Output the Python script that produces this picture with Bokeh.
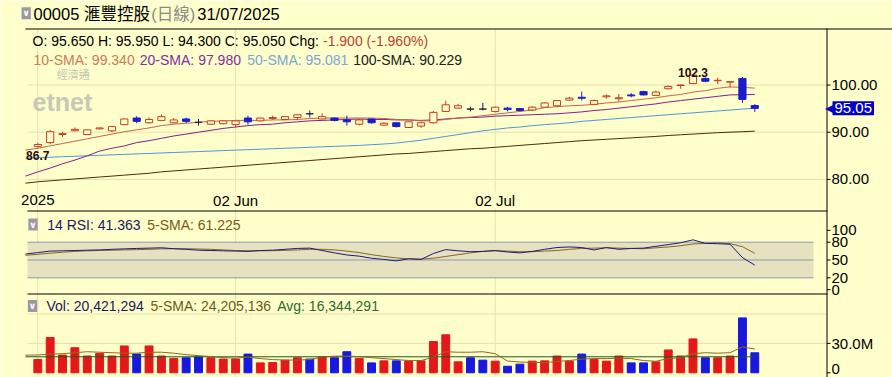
import numpy as np
from bokeh.plotting import figure
from bokeh.models import Range1d, Label, ColumnDataSource
from bokeh.core.properties import value
from bokeh.embed import file_html
from bokeh.resources import INLINE

# ---------------- data ----------------
symbol = "00005"
name = "滙豐控股"
period = "(日線)"
date_str = "31/07/2025"
tick_pos = [0, 16, 37]
tick_labels = ["2025", "02 Jun", "02 Jul"]
price_ticks = [80, 90, 100]
rsi_ticks = [0, 20, 50, 80, 100]
vol_ticks = [0, 30]

opens = [87.0, 87.8, 89.5, 90.3, 89.5, 90.7, 90.3, 91.6, 93.0, 92.0,
         92.5, 92.0, 92.8, 92.1, 91.7, 91.8, 91.6, 93.0, 92.4, 92.9,
         92.7, 93.1, 93.9, 92.8, 93.0, 92.6, 91.7, 92.8, 91.5, 92.0,
         91.0, 91.3, 92.0, 94.4, 95.1, 94.9, 94.9, 94.4, 95.1, 95.0,
         94.7, 95.3, 95.6, 96.8, 97.4, 95.9, 97.5, 97.1, 97.9, 98.6,
         97.8, 99.2, 99.9, 100.3, 101.4, 100.9, 100.6, 101.4, 95.65]
highs = [87.8, 90.5, 90.1, 91.0, 90.6, 91.0, 91.3, 92.9, 93.4, 93.2,
         93.8, 93.0, 93.1, 92.8, 92.6, 92.6, 92.6, 93.5, 93.1, 93.5,
         93.4, 93.8, 94.6, 94.0, 93.1, 93.5, 92.8, 92.9, 92.1, 92.1,
         92.3, 92.2, 94.5, 96.7, 96.0, 95.4, 96.2, 95.4, 95.4, 95.1,
         95.5, 96.3, 96.8, 97.5, 98.6, 96.9, 98.0, 98.1, 98.3, 98.8,
         98.8, 99.9, 100.1, 102.3, 101.6, 101.5, 100.8, 101.7, 95.95]
lows = [86.7, 87.5, 89.0, 90.2, 89.4, 90.6, 90.0, 91.5, 91.9, 91.8,
        92.4, 91.9, 91.9, 91.4, 91.6, 91.7, 91.0, 91.6, 92.3, 92.6,
        92.6, 92.7, 93.1, 92.7, 92.3, 91.4, 91.4, 91.8, 91.3, 91.0,
        90.9, 90.9, 91.8, 94.3, 95.0, 94.4, 94.6, 94.2, 94.4, 94.4,
        94.5, 95.2, 95.4, 96.7, 96.7, 95.8, 97.1, 96.5, 97.4, 97.8,
        97.7, 99.1, 99.2, 100.2, 100.6, 100.2, 99.5, 96.2, 94.3]
closes = [87.4, 90.1, 89.7, 90.6, 90.5, 90.9, 91.2, 92.8, 92.3, 92.7,
          93.3, 92.6, 92.3, 92.1, 92.4, 92.4, 92.4, 92.2, 93.0, 93.1,
          93.3, 93.7, 93.9, 93.3, 92.5, 92.2, 92.6, 92.0, 91.9, 91.2,
          92.2, 92.0, 94.2, 95.8, 95.6, 94.9, 94.9, 95.3, 94.8, 94.6,
          95.3, 96.2, 96.7, 97.2, 97.2, 96.7, 97.7, 97.3, 97.7, 97.9,
          98.5, 99.7, 100.0, 102.1, 100.8, 101.0, 100.7, 96.95, 95.05]
volumes_m = [13.6, 36.0, 18.1, 25.6, 17.1, 19.8, 17.1, 27.4, 19.1, 27.4,
             17.1, 14.7, 15.3, 16.3, 15.3, 14.0, 14.0, 19.1, 10.1, 10.5,
             12.9, 15.3, 14.0, 16.3, 15.3, 21.5, 14.7, 10.1, 12.2, 12.2,
             11.9, 12.2, 31.9, 38.8, 11.2, 15.3, 12.9, 11.9, 6.7, 8.8,
             11.9, 12.2, 17.1, 11.9, 19.1, 13.6, 11.9, 17.1, 10.1, 10.1,
             11.2, 23.3, 17.1, 34.6, 15.3, 15.3, 17.1, 56.0, 20.421294]

# indicator series, day index -1 .. 58
ind_x = list(range(-1, 59))
sma10 = [86.2, 86.6, 87.1, 87.6, 88.1, 88.6, 89.1, 89.6, 90.1, 90.5,
         90.9, 91.4, 91.7, 91.9, 92.1, 92.3, 92.4, 92.5, 92.5, 92.5,
         92.6, 92.6, 92.7, 92.9, 93.0, 93.0, 93.0, 93.0, 93.0, 92.9,
         92.7, 92.6, 92.4, 92.4, 92.7, 93.0, 93.2, 93.5, 93.8, 94.1,
         94.4, 94.7, 95.2, 95.4, 95.6, 95.7, 95.9, 96.2, 96.4, 96.7,
         97.0, 97.3, 97.7, 98.0, 98.5, 98.8, 99.3, 99.6, 99.5, 99.34]
sma20 = [80.7, 81.6, 82.4, 83.3, 84.1, 85.0, 86.0, 86.6, 87.1, 87.8,
         88.2, 88.7, 89.2, 89.6, 90.0, 90.4, 90.8, 91.1, 91.4, 91.6,
         91.7, 92.0, 92.2, 92.4, 92.5, 92.6, 92.7, 92.8, 92.7, 92.7,
         92.6, 92.6, 92.5, 92.6, 92.8, 93.0, 93.1, 93.2, 93.4, 93.5,
         93.6, 93.7, 93.8, 93.9, 94.1, 94.3, 94.6, 94.8, 95.1, 95.4,
         95.7, 96.0, 96.4, 96.7, 97.0, 97.3, 97.6, 97.9, 97.95, 97.98]
sma50 = [84.5, 84.6, 84.7, 84.8, 84.9, 85.0, 85.1, 85.2, 85.3, 85.4,
         85.5, 85.6, 85.7, 85.8, 85.9, 86.0, 86.1, 86.2, 86.3, 86.4,
         86.5, 86.6, 86.7, 86.8, 86.9, 87.0, 87.1, 87.2, 87.35, 87.5,
         87.7, 88.0, 88.3, 88.7, 89.1, 89.5, 89.9, 90.3, 90.6, 90.9,
         91.1, 91.4, 91.6, 91.8, 92.0, 92.3, 92.5, 92.7, 92.9, 93.1,
         93.3, 93.5, 93.7, 93.9, 94.1, 94.3, 94.5, 94.7, 94.9, 95.081]
sma100 = [79.2, 79.5, 79.7, 79.9, 80.1, 80.3, 80.5, 80.7, 80.9, 81.1,
          81.3, 81.6, 81.8, 82.0, 82.2, 82.4, 82.6, 82.8, 83.0, 83.2,
          83.4, 83.6, 83.8, 84.0, 84.2, 84.4, 84.6, 84.8, 85.0, 85.2,
          85.4, 85.5, 85.7, 85.9, 86.1, 86.3, 86.5, 86.6, 86.8, 87.0,
          87.2, 87.4, 87.6, 87.8, 88.0, 88.2, 88.35, 88.5, 88.65, 88.8,
          88.95, 89.1, 89.3, 89.45, 89.6, 89.75, 89.9, 90.0, 90.1, 90.229]
rsi14 = [60.0, 62.5, 65.0, 65.5, 66.0, 66.5, 67.0, 68.0, 68.8, 69.5,
         70.0, 70.6, 69.0, 68.0, 66.5, 66.0, 65.5, 65.0, 64.5, 66.0,
         66.5, 68.0, 69.5, 70.0, 66.0, 62.0, 58.5, 56.5, 53.0, 51.0,
         48.5, 52.0, 51.0, 61.0, 67.5, 65.5, 64.0, 64.5, 66.0, 63.5,
         62.0, 64.5, 68.0, 71.0, 72.0, 71.0, 67.0, 71.0, 68.0, 69.5,
         70.0, 73.0, 76.0, 79.0, 84.0, 78.0, 77.5, 76.5, 54.0, 41.363]
rsi_sma5 = [58.0, 59.5, 61.5, 63.0, 64.5, 65.5, 66.0, 66.5, 67.0, 67.5,
            68.0, 68.8, 69.0, 69.0, 68.5, 68.0, 67.0, 66.0, 65.5, 65.5,
            65.7, 66.2, 67.0, 68.0, 68.0, 67.0, 65.0, 62.5, 59.0, 56.0,
            53.5, 52.0, 51.5, 53.0, 56.0, 59.0, 62.0, 64.5, 65.5, 65.0,
            64.0, 64.0, 65.0, 66.0, 68.0, 69.5, 70.0, 70.5, 70.0, 69.5,
            69.0, 70.5, 72.0, 74.0, 77.0, 78.0, 79.0, 77.5, 72.5, 61.225]
vol_sma5 = [18.0, 18.2, 19.0, 19.5, 20.5, 21.5, 21.0, 20.5, 20.0, 20.0,
            21.0, 21.0, 20.0, 18.5, 17.5, 16.5, 15.5, 14.8, 16.0, 14.5,
            13.5, 13.0, 13.0, 13.5, 16.0, 17.0, 17.0, 16.5, 15.5, 14.5,
            13.5, 12.5, 12.5, 16.0, 21.5, 21.0, 21.0, 21.5, 19.5, 12.0,
            11.0, 10.5, 10.5, 11.5, 12.5, 14.0, 14.5, 14.5, 15.0, 14.5,
            12.5, 11.8, 14.5, 15.5, 19.5, 20.5, 20.0, 20.5, 26.5, 24.205136]
vol_avg = 16.344291

# ---------------- layout constants (pixels) ----------------
W, H = 892, 377
X0, DX = 37.3, 12.362          # pixel x of day 0, pixels per day
P_REF, P_Y, P_K = 100.0, 84.5, 4.72     # price 100 at y=84.5, px per unit
R_REF, R_Y, R_K = 80.0, 241.7, 0.5933   # RSI 80 at y=241.7
V_Y, V_K = 372.3, 0.98                  # volume 0 at y=372.3, px per million


def xi(px):
    return (px - X0) / DX


def py(pix):
    return P_REF + (P_Y - pix) / P_K


def ry(pix):
    return R_REF + (R_Y - pix) / R_K


def vy(pix):
    return (V_Y - pix) / V_K


BG = "#ffffcc"
GRID = "#e6dfae"
UP = "#c83c1e"
DOWN = "#1c1ccc"
DOJI = "#202050"
VOL_UP = "#e41818"
VOL_DN = "#1818e0"
C10, C20, C50, C100 = "#c86448", "#80208c", "#4c96d8", "#4a2c10"
FONT = "Liberation Sans, Noto Sans CJK TC, sans-serif"

p = figure(width=W, height=H, x_range=Range1d(xi(0), xi(W)), y_range=Range1d(py(H), py(0)),
           output_backend="svg", toolbar_location=None, x_axis_location=None,
           y_axis_location=None, title=None, min_border=0, background_fill_color=BG,
           border_fill_color=BG, outline_line_color=None)
p.extra_y_ranges = {"rsi": Range1d(ry(H), ry(0)), "vol": Range1d(vy(H), vy(0))}
p.xgrid.visible = False
p.ygrid.visible = False


def lab(cx, cy, text, size, color, style="normal", align="left", baseline="middle",
        font=FONT, **kw):
    """Text placed in canvas pixels (cy measured from the top)."""
    p.add_layout(Label(x=cx, y=H - cy, x_units="screen", y_units="screen", text=text,
                       text_font=font, text_font_size=f"{size}px", text_color=color,
                       text_font_style=style, text_align=align, text_baseline=baseline, **kw))


def checkbox(cx, cy):
    lab(cx, cy, "∨", 9, "white", style="bold", align="center", font="DejaVu Sans",
        background_fill_color="#9a9aa6", padding=1)


L, R = xi(27), xi(826)
AX = xi(826.5)

# ---------------- grid ----------------
p.segment(x0=tick_pos, x1=tick_pos, y0=[py(29)] * len(tick_pos), y1=[py(H)] * len(tick_pos),
          line_color=GRID, line_width=1)
p.segment(x0=[L] * len(price_ticks), x1=[R] * len(price_ticks), y0=price_ticks, y1=price_ticks,
          line_color=GRID, line_width=1)
p.segment(x0=[L, L], x1=[R, R], y0=[30, 60], y1=[30, 60], line_color=GRID, line_width=1,
          y_range_name="vol")

# ---------------- RSI band ----------------
BR = xi(813)
p.quad(left=L, right=BR, bottom=20, top=80, fill_color="#e6e2bf", line_color=None,
       y_range_name="rsi")
p.segment(x0=[L] * 3, x1=[BR] * 3, y0=[20, 50, 80], y1=[20, 50, 80], line_color="#8a9aae",
          line_width=1, y_range_name="rsi")

# ---------------- price panel ----------------
p.line(ind_x, sma100, line_color=C100, line_width=1)
p.line(ind_x, sma50, line_color=C50, line_width=1)
p.line(ind_x, sma20, line_color=C20, line_width=1)
p.line(ind_x, sma10, line_color=C10, line_width=1)

o = np.array(opens); hh = np.array(highs); ll = np.array(lows); c = np.array(closes)
cx = np.arange(len(o))
lc, fc, vc = [], [], []
for oo, cc in zip(o, c):
    if cc > oo:
        lc.append(UP); fc.append(BG); vc.append(VOL_UP)
    elif cc < oo:
        lc.append(DOWN); fc.append(DOWN); vc.append(VOL_DN)
    else:
        lc.append(DOJI); fc.append(DOJI); vc.append(VOL_DN)
src = ColumnDataSource(dict(x=cx, h=hh, l=ll, top=np.maximum(o, c), bot=np.minimum(o, c),
                            lc=lc, fc=fc, vc=vc, v=np.array(volumes_m)))
p.segment(x0="x", y0="l", x1="x", y1="h", line_color="lc", line_width=1, source=src)
p.vbar(x="x", width=0.58, top="top", bottom="bot", fill_color="fc", line_color="lc",
       line_width=1, source=src)

# ---------------- RSI panel ----------------
p.line(ind_x, rsi_sma5, line_color="#8a6420", line_width=1, y_range_name="rsi")
p.line(ind_x, rsi14, line_color="#1a1a80", line_width=1, y_range_name="rsi")

# ---------------- volume panel ----------------
p.vbar(x="x", width=0.64, top="v", bottom=0, fill_color="vc", line_color="vc", source=src,
       y_range_name="vol")
p.segment(x0=[ind_x[0]], x1=[ind_x[-1]], y0=[vol_avg], y1=[vol_avg], line_color="#1f5a1f",
          line_width=1, y_range_name="vol")
p.line(ind_x, vol_sma5, line_color="#8a6a20", line_width=1, y_range_name="vol")

# ---------------- frame lines & right axis ----------------
p.segment(x0=[xi(25)], x1=[xi(W)], y0=[py(28.5)], y1=[py(28.5)], line_color="black", line_width=1)
p.segment(x0=[L, L], x1=[xi(827), xi(827)], y0=[py(210.5), py(293.5)], y1=[py(210.5), py(293.5)],
          line_color="black", line_width=1)
p.segment(x0=[AX], x1=[AX], y0=[py(28)], y1=[py(H)], line_color="black", line_width=1)

TX0, TX1, TL = AX, xi(830), xi(831)


def right_ticks(vals, texts, rname, offsets=None):
    n = len(vals)
    kw = {} if rname is None else {"y_range_name": rname}
    p.segment(x0=[TX0] * n, x1=[TX1] * n, y0=vals, y1=vals, line_color="black", line_width=1, **kw)
    src_t = ColumnDataSource(dict(x=[TL] * n, y=vals, t=texts,
                                  dy=offsets if offsets is not None else [0] * n))
    p.text(x="x", y="y", text="t", y_offset="dy", text_font=value("Liberation Sans"),
           text_font_size="15px", text_baseline="middle", text_align="left",
           text_color="black", source=src_t, **kw)


right_ticks(price_ticks, [f"{t:.2f}" for t in price_ticks], None)
right_ticks(rsi_ticks, [str(t) for t in rsi_ticks], "rsi")
# the zero label sits on the bottom edge; lift it a little so it stays inside the page
right_ticks(vol_ticks, ["0" if t == 0 else f"{t:.1f}M" for t in vol_ticks], "vol",
            offsets=[-4 if t == 0 else 0 for t in vol_ticks])

# ---------------- annotations ----------------
i_lo = int(np.argmin(ll)); i_hi = int(np.argmax(hh))
p.add_layout(Label(x=i_lo, y=ll[i_lo], text=f"{ll[i_lo]:.1f}", text_font="Liberation Sans",
                   text_font_size="12px", text_font_style="bold", text_color="#2b0a0a",
                   text_align="center", text_baseline="top", y_offset=-3))
p.add_layout(Label(x=i_hi, y=hh[i_hi], text=f"{hh[i_hi]:.1f}", text_font="Liberation Sans",
                   text_font_size="12px", text_font_style="bold", text_color="#2b0a0a",
                   text_align="center", text_baseline="bottom", y_offset=-3))

for t, s in zip(tick_pos, tick_labels):
    p.add_layout(Label(x=t, y=H - 199.5, x_units="data", y_units="screen", text=s,
                       text_font="Liberation Sans", text_font_size="15px", text_color="black",
                       text_align="center", text_baseline="middle", background_fill_color=BG))

# last price tag
p.add_layout(Label(x=824.5, y=closes[-1], x_units="screen", text="◀", text_font="DejaVu Sans",
                   text_font_size="15px", text_color="#0000c8", text_align="left",
                   text_baseline="middle"))
p.add_layout(Label(x=832, y=closes[-1], x_units="screen", text=f"{closes[-1]:.2f}",
                   text_font="Liberation Sans", text_font_size="15px", text_color="white",
                   text_align="left", text_baseline="middle", background_fill_color="#0000c8",
                   padding=2))

# title row
checkbox(25.7, 12.8)
lab(33, 13.3, f"{symbol} {name}", 16.5, "black")
lab(150.7, 13.3, period, 16.5, "#8a8a8a")
lab(196.7, 13.3, date_str, 16.5, "black")

# price legends
chg = closes[-1] - closes[-2]
pct = chg / closes[-2] * 100
lab(32, 40.8, f"O: {opens[-1]:.3f} H: {highs[-1]:.3f} L: {lows[-1]:.3f} C: {closes[-1]:.3f} Chg:",
    14, "black")
lab(322.5, 40.8, f"{chg:.3f} ({pct:.3f}%)", 14, "#c04030")
lab(33, 59.2, f"10-SMA: {sma10[-1]:.3f}", 14, "#d0785a")
lab(139.3, 59.2, f"20-SMA: {sma20[-1]:.3f}", 14, "#8030a0")
lab(246.7, 59.2, f"50-SMA: {sma50[-1]:.3f}", 14, "#78a8d8")
lab(352.7, 59.2, f"100-SMA: {sma100[-1]:.3f}", 14, "#202020")
lab(72.7, 74, "經濟通", 11, "#c4c4b2", align="center")
lab(32, 101.7, "etnet", 25, "#c8c8b8", style="bold", baseline="alphabetic")

# RSI legend
checkbox(32.5, 224)
lab(46.7, 224.2, f"14 RSI: {rsi14[-1]:.3f}", 14, "#1a1a60")
lab(146.7, 224.2, f"5-SMA: {rsi_sma5[-1]:.3f}", 14, "#7a5a18")

# volume legend
fmt = lambda m: f"{int(round(m * 1e6)):,}"
checkbox(32, 305.5)
lab(46, 305.8, f"Vol: {fmt(volumes_m[-1])}", 14, "#1a1a60")
lab(150, 305.8, f"5-SMA: {fmt(vol_sma5[-1])}", 14, "#6b5a1a")
lab(276.7, 305.8, f"Avg: {fmt(vol_avg)}", 14, "#2a6a2a")

open("out.html", "w").write(file_html(p, INLINE))
